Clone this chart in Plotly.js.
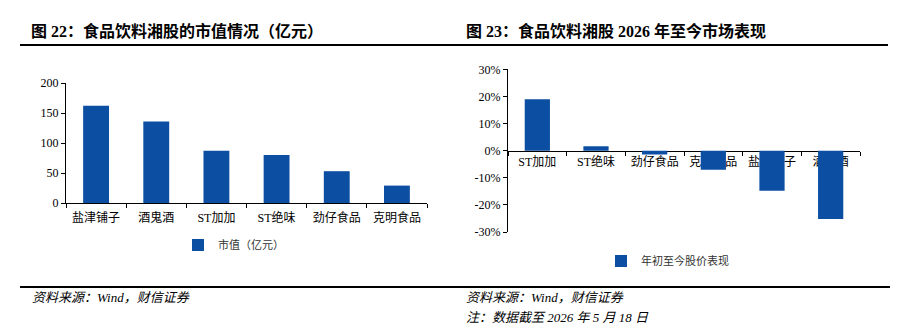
<!DOCTYPE html>
<html>
<head>
<meta charset="utf-8">
<script src="https://cdn.plot.ly/plotly-3.0.1.min.js"></script>
<style>html,body{margin:0;padding:0;background:#fff;} #chart{width:905px;height:334px;}</style>
</head>
<body>
<div id="chart"></div>
<script>
// ---- data ----
const capCategories = ['盐津铺子', '酒鬼酒', 'ST加加', 'ST绝味', '劲仔食品', '克明食品'];
const capValues = [162, 136, 87, 80, 53, 29];
const capTickVals = [0, 50, 100, 150, 200];
const capTickLabels = ['0', '50', '100', '150', '200'];

const perfCategories = ['ST加加', 'ST绝味', '劲仔食品', '克明食品', '盐津铺子', '酒鬼酒'];
const perfValues = [0.190, 0.016, -0.014, -0.070, -0.148, -0.252];
const perfTickVals = [-0.3, -0.2, -0.1, 0, 0.1, 0.2, 0.3];
const perfTickLabels = ['-30%', '-20%', '-10%', '0%', '10%', '20%', '30%'];

const capName = '市值（亿元）';
const perfName = '年初至今股价表现';

// ---- styles ----
const W = 905, H = 334;
const barColor = '#0b4ea2';
const serif = '"Liberation Serif", "Times New Roman", "Noto Sans CJK SC", serif';
const tickFont = {family: serif, size: 12, color: '#000'};
const catFont = {family: serif, size: 12, color: '#000'};

const px = x => x / W;
const py = y => 1 - y / H;

const leftY = [py(203), py(83)];
const rightY = [py(232), py(69.3)];
const perfRange = [-0.3, 0.3];
const zeroPos = rightY[0] + (0 - perfRange[0]) / (perfRange[1] - perfRange[0]) * (rightY[1] - rightY[0]);

const traces = [
  {type: 'bar', x: capCategories, y: capValues, name: capName, xaxis: 'x', yaxis: 'y',
   marker: {color: barColor}, legend: 'legend', hoverinfo: 'none'},
  {type: 'bar', x: perfCategories, y: perfValues, name: perfName, xaxis: 'x2', yaxis: 'y2',
   marker: {color: barColor}, legend: 'legend2', hoverinfo: 'none'}
];

const axCommon = {showgrid: false, zeroline: false, showline: true, linecolor: '#000', linewidth: 1,
  ticks: 'outside', ticklen: 4, tickcolor: '#000', fixedrange: true};

const layout = {
  width: W, height: H, margin: {l: 0, r: 0, t: 0, b: 0},
  paper_bgcolor: '#fff', plot_bgcolor: 'rgba(0,0,0,0)',
  bargap: 0.57, showlegend: true,
  xaxis: Object.assign({}, axCommon, {domain: [px(66), px(427)], anchor: 'y', type: 'category',
    tickson: 'boundaries', tickfont: catFont, ticklabelstandoff: 4}),
  yaxis: Object.assign({}, axCommon, {domain: leftY, anchor: 'x', range: [0, 200],
    tickvals: capTickVals, ticktext: capTickLabels, tickfont: tickFont}),
  xaxis2: Object.assign({}, axCommon, {domain: [px(508), px(860)], anchor: 'free', position: zeroPos,
    type: 'category', tickson: 'boundaries', tickfont: catFont, layer: 'below traces'}),
  yaxis2: Object.assign({}, axCommon, {domain: rightY, anchor: 'x2', range: perfRange,
    tickvals: perfTickVals, ticktext: perfTickLabels, tickfont: tickFont}),
  legend: {x: px(178), y: py(245), xanchor: 'left', yanchor: 'middle', orientation: 'h',
    font: {family: serif, size: 11, color: '#333'}, bgcolor: 'rgba(0,0,0,0)', itemwidth: 30},
  legend2: {x: px(601), y: py(261), xanchor: 'left', yanchor: 'middle', orientation: 'h',
    font: {family: serif, size: 11, color: '#333'}, bgcolor: 'rgba(0,0,0,0)', itemwidth: 30},
  shapes: [
    {type: 'line', xref: 'paper', yref: 'paper', x0: px(20), x1: px(888), y0: py(45), y1: py(45),
     line: {color: '#000', width: 2}},
    {type: 'line', xref: 'paper', yref: 'paper', x0: px(20), x1: px(890), y0: py(287), y1: py(287),
     line: {color: '#000', width: 2}}
  ],
  annotations: [
    {text: '<b>图 22：食品饮料湘股的市值情况（亿元）</b>', xref: 'paper', yref: 'paper',
     x: px(29), y: py(31), xanchor: 'left', yanchor: 'middle', showarrow: false,
     font: {family: serif, size: 16, color: '#000'}},
    {text: '<b>图 23：食品饮料湘股 2026 年至今市场表现</b>', xref: 'paper', yref: 'paper',
     x: px(464), y: py(31), xanchor: 'left', yanchor: 'middle', showarrow: false,
     font: {family: serif, size: 16, color: '#000'}},
    {text: '<i>资料来源：Wind，财信证券</i>', xref: 'paper', yref: 'paper',
     x: px(30), y: py(297), xanchor: 'left', yanchor: 'middle', showarrow: false,
     font: {family: serif, size: 13, color: '#000'}},
    {text: '<i>资料来源：Wind，财信证券</i>', xref: 'paper', yref: 'paper',
     x: px(464), y: py(297), xanchor: 'left', yanchor: 'middle', showarrow: false,
     font: {family: serif, size: 13, color: '#000'}},
    {text: '<i>注：数据截至 2026 年 5 月 18 日</i>', xref: 'paper', yref: 'paper',
     x: px(464), y: py(317), xanchor: 'left', yanchor: 'middle', showarrow: false,
     font: {family: serif, size: 13, color: '#000'}}
  ]
};

Plotly.newPlot('chart', traces, layout, {displayModeBar: false, staticPlot: true});
</script>
</body>
</html>
